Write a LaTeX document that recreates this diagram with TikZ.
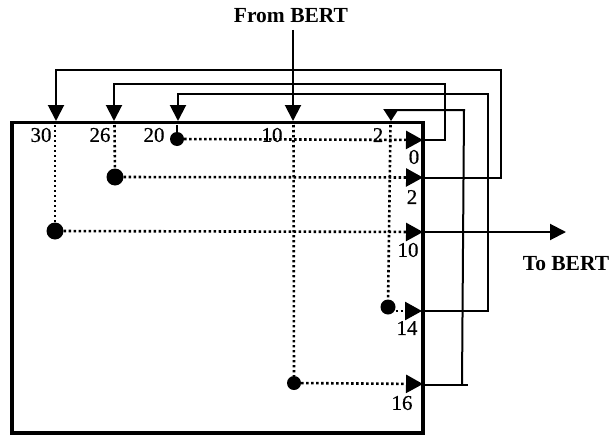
\documentclass[tikz,border=0pt]{standalone}
\usepackage{fontspec}
\setmainfont{Liberation Serif}
\newfontfamily\numfont[FakeBold=0.6]{Liberation Serif}
\usetikzlibrary{arrows.meta}
\tikzset{
  wire/.style={line width=2pt,line join=miter},
  inwire/.style={wire,-{Triangle[length=16pt,width=16pt]}},
  smallin/.style={wire,-{Triangle[length=12pt,width=15pt]}},
  sig/.style={line width=2.6pt,dash pattern=on 2.4pt off 2.6pt},
  sigarrow/.style={sig,-{Triangle[length=17pt,width=18pt,sep=0pt]}},
  dot/.style={circle,fill=black,inner sep=0pt,minimum size=#1},
  num/.style={font=\fontsize{21}{21}\numfont,inner sep=0pt},
  head/.style={font=\fontsize{21.5}{21.5}\selectfont\bfseries,inner sep=0pt},
  chip/.style={draw,line width=3.8pt,inner sep=0pt,outer sep=0pt,minimum width=411pt,minimum height=310.5pt,anchor=north west}
}
\begin{document}
\begin{tikzpicture}[x=1pt,y=-1pt]
\useasboundingbox (0,0) rectangle (612,436);
\node[chip] (box) at (12,122.5) {};
% input points on top edge
\coordinate (t30) at (56,121);
\coordinate (t26) at (114,121);
\coordinate (t20) at (178,121);
\coordinate (t10) at (293,121);
\coordinate (t2) at (391,121);
\coordinate (b30) at (55,125);
\coordinate (b26) at (114.5,125);
\coordinate (b20) at (177,125);
\coordinate (b10) at (293.5,125);
\coordinate (b2) at (390.5,125);
% output points on right edge
\coordinate (o0) at (423,140);
\coordinate (o2) at (423,177.5);
\coordinate (o10) at (423,232);
\coordinate (o14) at (422,311);
\coordinate (o16) at (423,384);
\coordinate (fin) at (293,30);
\coordinate (fout) at (566,232);
\coordinate (e16) at (468,385);
% dots
\node[dot=14pt] (d20) at (177,139) {};
\node[dot=17pt] (d26) at (115,177) {};
\node[dot=17pt] (d30) at (55,231) {};
\node[dot=15pt] (d14) at (388,307) {};
\node[dot=14pt] (d16) at (294,383) {};
% dotted paths
\draw[sig] (b30) -- (d30);
\draw[sig] (b26) -- (d26);
\draw[wire] (b20) -- (d20);
\draw[sig] (b10) -- (d16);
\draw[sig] (b2) -- (d14);
\draw[sigarrow] (d20) -- (o0);
\draw[sigarrow] (d26) -- (o2);
\draw[sigarrow] (d30) -- (o10);
\draw[sigarrow] (d14.east |- o14) -- (o14);
\draw[sigarrow] (d16) -- (o16);
% external wires
\draw[inwire] (fin) -- (t10);
\draw[inwire] (o2) -- (501,177.5) -- (501,70) -- (56,70) -- (t30);
\draw[inwire] (o0) -- (445,140) -- (445,84) -- (114,84) -- (t26);
\draw[inwire] (o14) -- (488,311) -- (488,94) -- (178,94) -- (t20);
\draw[wire] (425,385) -- (e16);
\draw[smallin] (462,385) -- (464,110) -- (391,110) -- (t2);
\draw[wire,-{Triangle[length=16pt,width=16pt]}] (o10) -- (fout);
% labels
\node[num] (l30) at (41,135) {30};
\node[num] (l26) at (100,135) {26};
\node[num] (l20) at (154,135) {20};
\node[num] (l10) at (272,135) {10};
\node[num] (l2) at (378,135) {2};
\node[num] (r0) at (414,157) {0};
\node[num] (r2) at (412,197) {2};
\node[num] (r10) at (408,250) {10};
\node[num] (r14) at (407,328) {14};
\node[num] (r16) at (402,403) {16};
\node[head] (from) at (291,16) {From BERT};
\node[head] (to) at (566,264) {To BERT};
\end{tikzpicture}
\end{document}
